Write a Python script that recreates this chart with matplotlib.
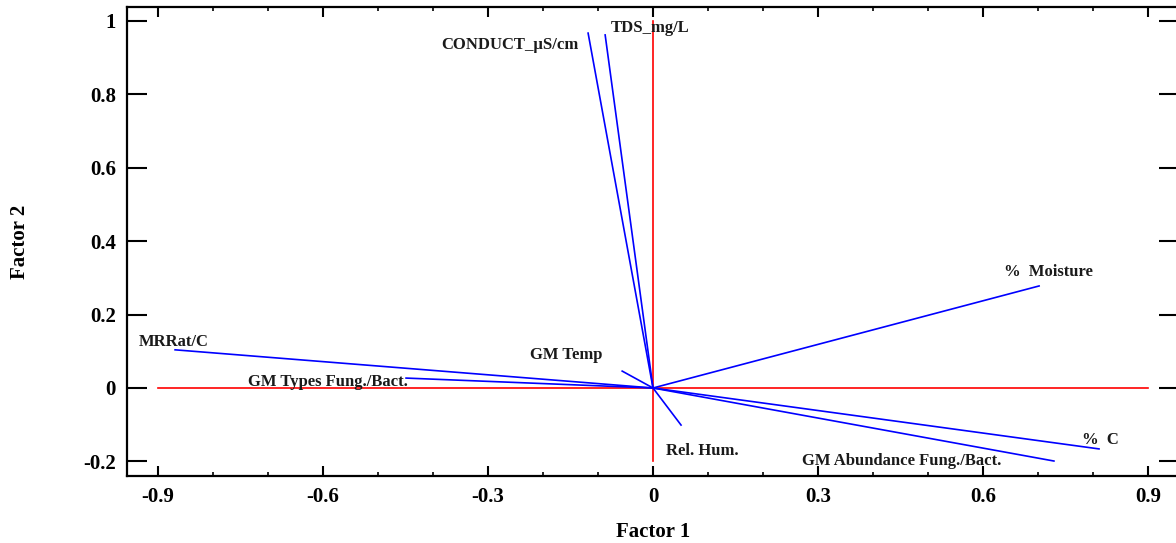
import matplotlib
matplotlib.use("Agg")
import matplotlib.pyplot as plt
from matplotlib.ticker import MultipleLocator, FixedLocator

plt.rcParams['font.family'] = ['Liberation Serif', 'DejaVu Serif']
plt.rcParams['font.weight'] = 'bold'

# Variable names and loadings (Factor 1, Factor 2)
variables = ["CONDUCT_\u00b5S/cm", "TDS_mg/L", "%  Moisture", "MRRat/C",
             "GM Types Fung./Bact.", "GM Temp", "Rel. Hum.",
             "GM Abundance Fung./Bact.", "%  C"]
factor1 = [-0.118, -0.087, 0.702, -0.869, -0.449, -0.056, 0.051, 0.729, 0.811]
factor2 = [0.967, 0.962, 0.278, 0.104, 0.027, 0.046, -0.101, -0.199, -0.166]

# label anchor positions (data coords) and alignment
label_x = [-0.135, -0.076, 0.638, -0.935, -0.736, -0.224, 0.024, 0.271, 0.780]
label_y = [0.935, 0.981, 0.316, 0.125, 0.016, 0.090, -0.172, -0.199, -0.142]
label_ha = ['right', 'left', 'left', 'left', 'left', 'left', 'left', 'left', 'left']

xticks = [-0.9, -0.6, -0.3, 0, 0.3, 0.6, 0.9]
xtick_labels = ["-0.9", "-0.6", "-0.3", "0", "0.3", "0.6", "0.9"]
yticks = [-0.2, 0, 0.2, 0.4, 0.6, 0.8, 1]
ytick_labels = ["-0.2", "0", "0.2", "0.4", "0.6", "0.8", "1"]

W, H = 1176, 543
fig = plt.figure(figsize=(W / 100, H / 100), dpi=100)
ax = fig.add_axes([127 / W, (H - 476) / H, 1052 / W, 469 / H])

ax.set_xlim(-0.9564, 0.9564)
ax.set_ylim(-0.2398, 1.0381)

# reference axes (red)
ax.plot([-0.9, 0.9], [0, 0], color='#ff0000', lw=1.2, zorder=2)
ax.plot([0, 0], [-0.2, 1.0], color='#ff0000', lw=1.2, zorder=2)

# loading vectors (blue)
for fx, fy in zip(factor1, factor2):
    ax.plot([0, fx], [0, fy], color='#0000ff', lw=1.2, zorder=3)

for name, lx, ly, ha in zip(variables, label_x, label_y, label_ha):
    ax.text(lx, ly, name, ha=ha, va='center', fontsize=12, fontweight='bold',
            color='#1a1a1a')

ax.xaxis.set_major_locator(FixedLocator(xticks))
ax.set_xticklabels(xtick_labels)
ax.xaxis.set_minor_locator(MultipleLocator(0.1))
ax.yaxis.set_major_locator(FixedLocator(yticks))
ax.set_yticklabels(ytick_labels)

ax.tick_params(axis='x', which='major', direction='in', length=7, width=1.5,
               top=True, bottom=True, labelsize=15, pad=8)
ax.tick_params(axis='x', which='minor', direction='in', length=3, width=1.2,
               top=True, bottom=True)
ax.tick_params(axis='y', which='major', direction='in', length=14.5, width=1.5,
               left=True, right=True, labelsize=15, pad=8)
ax.tick_params(axis='y', which='minor', left=False, right=False)
for lab in ax.get_xticklabels() + ax.get_yticklabels():
    lab.set_fontweight('bold')

for sp in ax.spines.values():
    sp.set_linewidth(1.6)

ax.set_xlabel("Factor 1", fontsize=15, fontweight='bold', labelpad=11)
ax.set_ylabel("Factor 2", fontsize=15, fontweight='bold', labelpad=38)

fig.savefig("out.png", dpi=100)
